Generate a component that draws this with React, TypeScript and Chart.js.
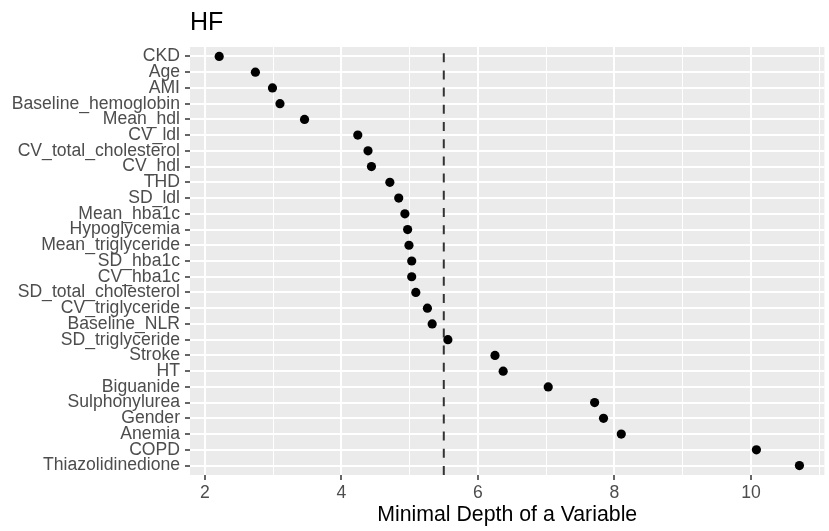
import React, { useEffect, useRef } from "react";
import { Chart, registerables } from "chart.js";

Chart.register(...registerables);

const categories = [
  "CKD", "Age", "AMI", "Baseline_hemoglobin", "Mean_hdl", "CV_ldl",
  "CV_total_cholesterol", "CV_hdl", "THD", "SD_ldl", "Mean_hba1c",
  "Hypoglycemia", "Mean_triglyceride", "SD_hba1c", "CV_hba1c",
  "SD_total_cholesterol", "CV_triglyceride", "Baseline_NLR", "SD_triglyceride",
  "Stroke", "HT", "Biguanide", "Sulphonylurea", "Gender", "Anemia", "COPD",
  "Thiazolidinedione",
];

const minimalDepth = [
  2.21, 2.74, 2.99, 3.10, 3.46, 4.24,
  4.39, 4.44, 4.71, 4.84, 4.93,
  4.97, 4.99, 5.03, 5.03,
  5.09, 5.26, 5.33, 5.56,
  6.25, 6.37, 7.03, 7.71, 7.84, 8.10, 10.08,
  10.71,
];

const xTicks = [2, 3, 4, 5, 6, 7, 8, 9, 10, 11];
const xMajorLabels = [2, 4, 6, 8, 10];
const threshold = 5.5;

const FONT = "'Liberation Sans', Arial, Helvetica, sans-serif";

const panelPlugin = {
  id: "panelBg",
  beforeDraw(chart: any) {
    const { ctx, chartArea } = chart;
    ctx.save();
    ctx.fillStyle = "#EBEBEB";
    ctx.fillRect(chartArea.left, chartArea.top, chartArea.right - chartArea.left, chartArea.bottom - chartArea.top);
    ctx.restore();
  },
};

const vlinePlugin = {
  id: "vline",
  beforeDatasetsDraw(chart: any) {
    const { ctx, chartArea, scales } = chart;
    const x = scales.x.getPixelForValue(threshold);
    ctx.save();
    ctx.strokeStyle = "#333333";
    ctx.lineWidth = 2;
    ctx.setLineDash([9, 8.2]);
    ctx.beginPath();
    ctx.moveTo(x, chartArea.bottom);
    ctx.lineTo(x, chartArea.top);
    ctx.stroke();
    ctx.restore();
  },
};

export default function App() {
  const ref = useRef<HTMLCanvasElement | null>(null);

  useEffect(() => {
    if (!ref.current) return;
    const points = minimalDepth.map((v, i) => ({ x: v, y: i }));
    const chart = new Chart(ref.current, {
      type: "scatter",
      data: {
        datasets: [
          {
            data: points,
            backgroundColor: "#000000",
            borderColor: "#000000",
            borderWidth: 0,
            pointRadius: 4.6,
            pointHoverRadius: 4.6,
          },
        ],
      },
      options: {
        animation: false,
        responsive: false,
        layout: { padding: 0 },
        plugins: {
          legend: { display: false },
          tooltip: { enabled: false },
          title: {
            display: true,
            text: "HF",
            align: "start",
            fullSize: false,
            color: "#000000",
            font: { family: FONT, size: 25, weight: "normal" },
            padding: { top: 8, bottom: 9 },
          },
        },
        scales: {
          x: {
            type: "linear",
            min: 1.782,
            max: 11.076,
            afterBuildTicks: (scale: any) => {
              scale.ticks = xTicks.map((v) => ({ value: v }));
            },
            afterFit: (scale: any) => {
              scale.height = 56;
            },
            border: { display: false },
            grid: {
              color: "#FFFFFF",
              lineWidth: (c: any) => (c.tick && xMajorLabels.includes(c.tick.value) ? 2 : 1),
              tickColor: (c: any) => (c.tick && xMajorLabels.includes(c.tick.value) ? "#333333" : "rgba(0,0,0,0)"),
              tickLength: 5,
              tickWidth: 1.5,
            },
            ticks: {
              color: "#4D4D4D",
              padding: 3,
              autoSkip: false,
              maxRotation: 0,
              font: { family: FONT, size: 17.6 },
              callback: (v: any) => (xMajorLabels.includes(Number(v)) ? String(v) : ""),
            },
            title: {
              display: true,
              text: "Minimal Depth of a Variable",
              color: "#000000",
              font: { family: FONT, size: 21.3 },
              padding: { top: 0, bottom: 3 },
            },
          },
          y: {
            type: "linear",
            reverse: true,
            min: -0.6,
            max: categories.length - 1 + 0.6,
            afterBuildTicks: (scale: any) => {
              scale.ticks = categories.map((_, i) => ({ value: i }));
            },
            afterFit: (scale: any) => {
              scale.width = 190;
            },
            border: { display: false },
            grid: {
              color: "#FFFFFF",
              lineWidth: 2,
              tickColor: "#333333",
              tickLength: 5,
              tickWidth: 1.5,
            },
            ticks: {
              color: "#4D4D4D",
              padding: 5,
              autoSkip: false,
              font: { family: FONT, size: 17.6 },
              callback: (v: any) => categories[Number(v)] ?? "",
            },
          },
        },
      },
      plugins: [panelPlugin, vlinePlugin],
    });
    return () => chart.destroy();
  }, []);

  return (
    <div style={{ position: "absolute", left: 0, top: 0, width: 829, height: 531, background: "#FFFFFF" }}>
      <canvas ref={ref} width={829} height={531} />
    </div>
  );
}
